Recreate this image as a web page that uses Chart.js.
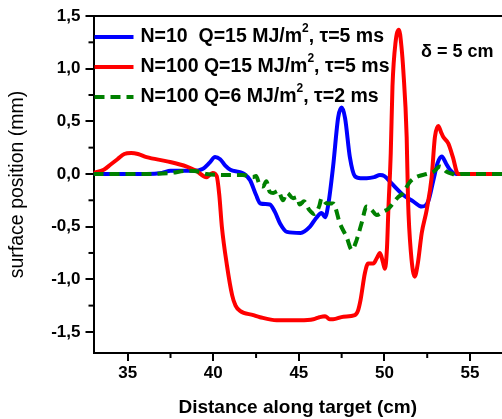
<!DOCTYPE html>
<html><head><meta charset="utf-8">
<script src="https://cdn.jsdelivr.net/npm/chart.js@4.4.1/dist/chart.umd.min.js"></script>
<style>html,body{margin:0;padding:0;background:#fff}#wrap{width:502px;height:419px;position:relative}</style>
</head><body><div id="wrap"><canvas id="c" width="502" height="419"></canvas></div>
<script>
const xTicks = [35, 40, 45, 50, 55];
const xMinorTicks = [37.5, 42.5, 47.5, 52.5];
const yTicks = [-1.5, -1, -0.5, 0, 0.5, 1, 1.5];
const yMinorTicks = [-1.25, -0.75, -0.25, 0.25, 0.75, 1.25];
const seriesLabels = ["N=10  Q=15 MJ/m², τ=5 ms", "N=100 Q=15 MJ/m², τ=5 ms", "N=100 Q=6 MJ/m², τ=2 ms"];
const seriesColors = ["#0000ff", "#ff0000", "#008000"];
const annotationText = "δ = 5 cm";
const xTitle = "Distance along target (cm)";
const yTitle = "surface position (mm)";

const blueX = [33,35,36.1,37.0,37.5,38.8,39.4,39.8,40.1,40.4,40.7,41.0,41.5,41.8,42.15,42.5,42.75,43.3,43.6,43.9,44.3,45.1,45.65,46.0,46.33,46.53,46.72,47.0,47.3,47.5,47.7,47.98,48.27,48.6,48.96,49.4,49.74,50.0,50.42,51.1,51.68,52.18,52.56,52.86,53.1,53.35,53.6,53.83,54.2,57];
const blueY = [0,0,0,0.01,0.03,0.03,0.05,0.11,0.16,0.14,0.08,0.04,0.02,0.0,-0.06,-0.2,-0.28,-0.29,-0.36,-0.47,-0.55,-0.56,-0.5,-0.42,-0.37,-0.41,-0.29,0.07,0.54,0.63,0.53,0.16,-0.02,-0.04,-0.04,-0.03,-0.01,-0.02,-0.09,-0.2,-0.26,-0.31,-0.26,-0.06,0.1,0.165,0.1,0.04,0.0,0];

const redX = [33,33.6,34.0,34.4,34.8,35.2,35.6,36.1,37.3,38.45,39.0,39.6,39.96,40.2,40.35,40.5,40.8,41.1,41.3,41.56,42.34,42.73,43.7,45.07,45.85,46.2,46.53,46.8,47.0,47.6,48.27,48.45,48.6,48.86,49.05,49.35,49.55,49.74,49.9,50.03,50.15,50.23,50.37,50.47,50.65,50.85,51.0,51.1,51.3,51.38,51.55,51.77,51.95,52.18,52.47,52.76,52.95,53.15,53.3,53.44,53.73,54.0,54.3,57];
const redY = [0.01,0.04,0.09,0.14,0.19,0.2,0.19,0.16,0.12,0.07,0.03,-0.03,0.01,-0.02,-0.2,-0.5,-0.87,-1.15,-1.25,-1.3,-1.34,-1.36,-1.39,-1.39,-1.38,-1.36,-1.35,-1.38,-1.38,-1.355,-1.34,-1.3,-1.2,-0.94,-0.85,-0.85,-0.8,-0.75,-0.83,-0.9,-0.7,-0.34,0.2,0.83,1.25,1.37,1.2,0.99,0.35,-0.25,-0.75,-0.975,-0.85,-0.56,-0.34,-0.03,0.35,0.455,0.4,0.35,0.29,0.16,0.0,0];

const greenX = [33,36,37.5,38.5,39.2,39.6,40.95,41.73,42.3,42.5,42.7,42.9,43.1,43.3,43.5,43.8,44.07,44.3,44.66,44.9,45.05,45.3,45.6,45.9,46.04,46.2,46.33,46.62,47.0,47.4,47.79,48.1,48.37,48.66,48.96,49.25,49.55,49.9,50.23,50.8,51.1,51.38,51.58,52.0,52.47,52.86,53.25,53.64,54.0,54.23,54.5,57];
const greenY = [0,0,0.01,0.03,0.02,0,-0.01,-0.01,-0.03,-0.02,-0.1,-0.12,-0.07,-0.17,-0.18,-0.16,-0.25,-0.18,-0.23,-0.22,-0.29,-0.26,-0.34,-0.38,-0.36,-0.3,-0.23,-0.28,-0.28,-0.47,-0.6,-0.72,-0.63,-0.47,-0.31,-0.34,-0.39,-0.36,-0.33,-0.22,-0.18,-0.1,-0.06,-0.02,0.0,0.02,0.07,0.02,0.0,-0.01,0,0];

const FONT = '"Liberation Sans", Arial, sans-serif';
const pts = (xs, ys) => xs.map((v, i) => ({x: v, y: ys[i]}));

const decor = {
  id: 'decor',
  afterDatasetsDraw(chart) {
    const {ctx, chartArea: a, scales: {x, y}} = chart;
    ctx.save();
    ctx.strokeStyle = '#000'; ctx.lineWidth = 2; ctx.lineCap = 'butt';
    ctx.beginPath(); ctx.moveTo(a.left - 1, a.top); ctx.lineTo(a.right, a.top); ctx.stroke();
    xMinorTicks.forEach(v => { const p = x.getPixelForValue(v); ctx.beginPath(); ctx.moveTo(p, a.bottom); ctx.lineTo(p, a.bottom + 5); ctx.stroke(); });
    yMinorTicks.forEach(v => { const p = y.getPixelForValue(v); ctx.beginPath(); ctx.moveTo(a.left, p); ctx.lineTo(a.left - 5, p); ctx.stroke(); });
    // legend
    chart.data.datasets.forEach((ds, i) => {
      const ry = a.top + 21 + 30 * i;
      ctx.strokeStyle = ds.borderColor; ctx.lineWidth = 4;
      ctx.setLineDash(ds.borderDash || []);
      ctx.beginPath(); ctx.moveTo(a.left + 1, ry); ctx.lineTo(a.left + 40, ry); ctx.stroke();
      ctx.setLineDash([]);
      const parts = ds.label.split('²');
      let tx = a.left + 47;
      ctx.fillStyle = '#000'; ctx.textBaseline = 'middle'; ctx.textAlign = 'left';
      ctx.font = 'bold 19.5px ' + FONT;
      ctx.fillText(parts[0], tx, ry); tx += ctx.measureText(parts[0]).width;
      ctx.font = 'bold 12px ' + FONT;
      ctx.fillText('2', tx, ry - 8); tx += ctx.measureText('2').width;
      ctx.font = 'bold 19.5px ' + FONT;
      ctx.fillText(parts[1], tx, ry);
    });
    ctx.font = 'bold 18px ' + FONT; ctx.fillStyle = '#000'; ctx.textBaseline = 'middle';
    ctx.fillText(annotationText, 421, 52);
    ctx.restore();
  }
};

new Chart(document.getElementById('c'), {
  type: 'line',
  data: {
    datasets: [
      {label: seriesLabels[0], data: pts(blueX, blueY), borderColor: seriesColors[0], borderWidth: 4, pointRadius: 0, cubicInterpolationMode: 'monotone', order: 2},
      {label: seriesLabels[1], data: pts(redX, redY), borderColor: seriesColors[1], borderWidth: 4, pointRadius: 0, cubicInterpolationMode: 'monotone', order: 1},
      {label: seriesLabels[2], data: pts(greenX, greenY), borderColor: seriesColors[2], borderWidth: 4, borderDash: [10, 6], pointRadius: 0, cubicInterpolationMode: 'monotone', order: 0}
    ]
  },
  options: {
    responsive: false, animation: false, devicePixelRatio: 1,
    layout: {padding: {top: 16, right: 0, left: 0, bottom: 0}},
    plugins: {legend: {display: false}, tooltip: {enabled: false}},
    scales: {
      x: {
        type: 'linear', min: 33, max: 56.87,
        afterBuildTicks: s => { s.ticks = xTicks.map(v => ({value: v})); },
        afterFit: s => { s.height = 66; },
        grid: {display: true, drawOnChartArea: false, drawTicks: true, tickLength: 8, color: '#000', lineWidth: 2},
        border: {display: true, color: '#000', width: 2},
        ticks: {color: '#000', padding: 2, font: {family: FONT, size: 17, weight: 'bold'}, maxRotation: 0},
        title: {display: true, text: xTitle, color: '#000', padding: {top: 0, bottom: 0}, font: {family: FONT, size: 19, weight: 'bold'}}
      },
      y: {
        type: 'linear', min: -1.7, max: 1.5,
        afterBuildTicks: s => { s.ticks = yTicks.map(v => ({value: v})); },
        afterFit: s => { s.width = 93.5; },
        grid: {display: true, drawOnChartArea: false, drawTicks: true, tickLength: 8, color: '#000', lineWidth: 2},
        border: {display: true, color: '#000', width: 2},
        ticks: {color: '#000', padding: 5, font: {family: FONT, size: 17, weight: 'bold'}, callback: v => v.toFixed(1).replace('.', ',')},
        title: {display: true, text: yTitle, color: '#000', padding: {top: 6, bottom: 0}, font: {family: FONT, size: 19.5, weight: 'normal'}}
      }
    }
  },
  plugins: [decor]
});
</script></body></html>
